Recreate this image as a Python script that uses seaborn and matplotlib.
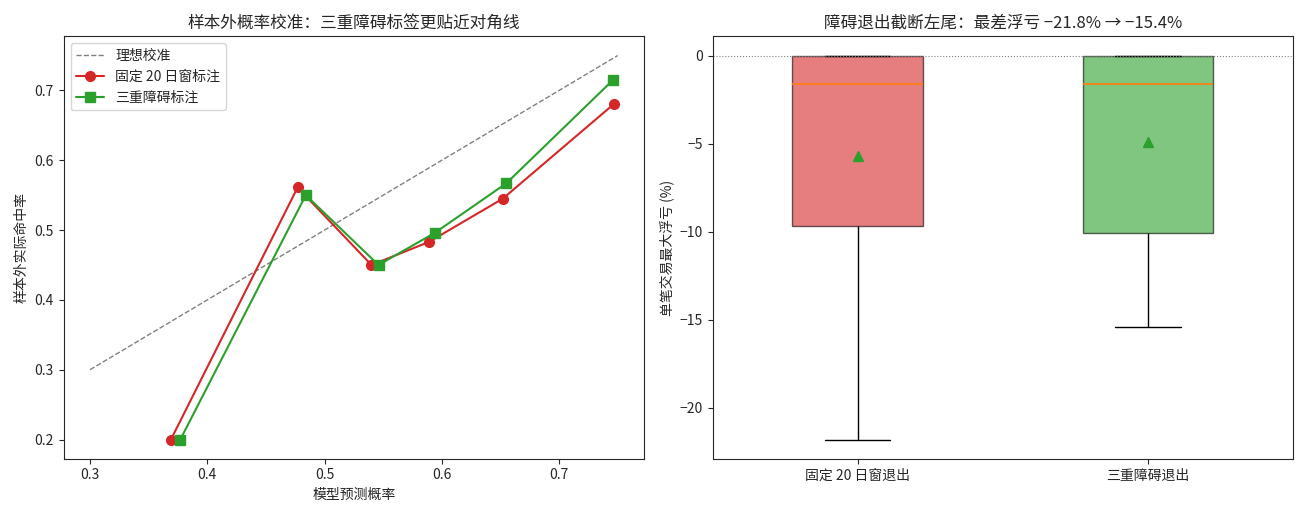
import numpy as np
import pandas as pd
import seaborn as sns
import matplotlib.pyplot as plt

# calibration curve (left)
ideal_x = [0.3, 0.75]
fixed_prob = [0.369, 0.477, 0.540, 0.589, 0.652, 0.747]
fixed_hit = [0.200, 0.561, 0.450, 0.483, 0.545, 0.681]
triple_prob = [0.377, 0.484, 0.546, 0.594, 0.655, 0.746]
triple_hit = [0.200, 0.550, 0.450, 0.496, 0.567, 0.715]

# per-trade max drawdown (%) (right)
exit_labels = ["固定 20 日窗退出", "三重障碍退出"]
fixed_dd = [-21.8, -12.5, -9.7, -5.7, -1.6, 0.0, 0.0, 0.0, 0.0]
triple_dd = [-15.4, -12.0, -10.1, -5.0, -1.6, 0.0, 0.0, 0.0, 0.0]

sns.set_style("ticks")
plt.rcParams["font.family"] = ["Noto Sans CJK SC", "DejaVu Sans"]
plt.rcParams["axes.unicode_minus"] = True

fig, (ax1, ax2) = plt.subplots(1, 2, figsize=(13.08, 5.17), dpi=100)

red, green = "#d62728", "#2ca02c"
ax1.plot(ideal_x, ideal_x, linestyle="--", color="gray", linewidth=1, label="理想校准")
sns.lineplot(x=fixed_prob, y=fixed_hit, sort=False, marker="o", markersize=7,
             markeredgecolor=red, markeredgewidth=1, color=red, linewidth=1.5,
             label="固定 20 日窗标注", ax=ax1)
sns.lineplot(x=triple_prob, y=triple_hit, sort=False, marker="s", markersize=7,
             markeredgecolor=green, markeredgewidth=1, color=green, linewidth=1.5,
             label="三重障碍标注", ax=ax1)
ax1.set_title("样本外概率校准：三重障碍标签更贴近对角线", fontsize=12)
ax1.set_xlabel("模型预测概率")
ax1.set_ylabel("样本外实际命中率")
ax1.legend(loc="upper left")

df = pd.DataFrame({
    "group": [exit_labels[0]] * len(fixed_dd) + [exit_labels[1]] * len(triple_dd),
    "dd": fixed_dd + triple_dd,
})
sns.boxplot(data=df, x="group", y="dd", hue="group", order=exit_labels,
            palette=[red, green], saturation=1, width=0.45, linecolor="black",
            linewidth=1, showmeans=True, legend=False,
            medianprops=dict(color="#ff7f0e", linewidth=1.2),
            meanprops=dict(marker="^", markerfacecolor=green,
                           markeredgecolor=green, markersize=7),
            ax=ax2)
for p in ax2.patches:
    p.set_alpha(0.6)
ax2.axhline(0, color="gray", linestyle=":", linewidth=0.8)
ax2.set_xlim(-0.5, 1.5)
ax2.set_title("障碍退出截断左尾：最差浮亏 −21.8% → −15.4%", fontsize=12)
ax2.set_xlabel("")
ax2.set_ylabel("单笔交易最大浮亏 (%)")

plt.tight_layout()
plt.savefig("out.png", dpi=100)
plt.close()
